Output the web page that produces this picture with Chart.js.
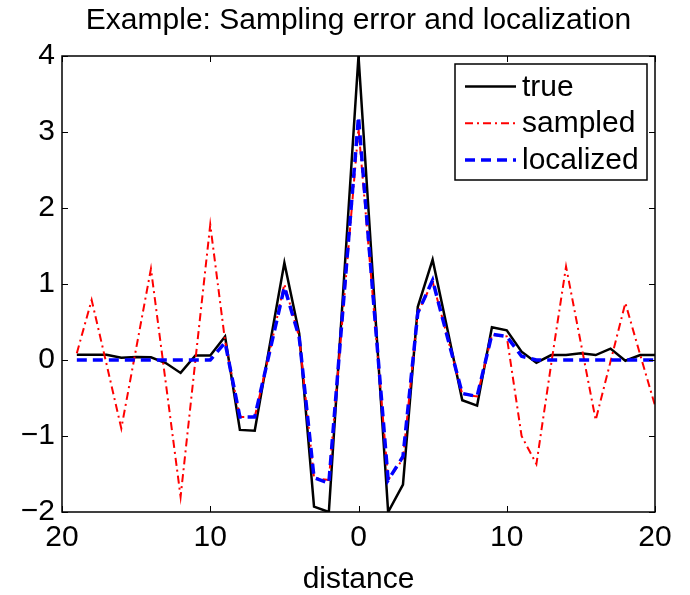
<!DOCTYPE html>
<html>
<head>
<meta charset="utf-8">
<script src="https://cdn.jsdelivr.net/npm/chart.js@4.4.0/dist/chart.umd.min.js"></script>
<style>
html, body { margin: 0; padding: 0; background: #fff; }
</style>
</head>
<body>
<canvas id="myChart" width="690" height="595"></canvas>
<script>
// distance from -19 to 20
const distance = [-19, -18, -17, -16, -15, -14, -13, -12, -11, -10,
                  -9, -8, -7, -6, -5, -4, -3, -2, -1, 0,
                  1, 2, 3, 4, 5, 6, 7, 8, 9, 10,
                  11, 12, 13, 14, 15, 16, 17, 18, 19, 20];

const trueVals = [0.07, 0.07, 0.07, 0.03, 0.04, 0.035, -0.04, -0.17, 0.06, 0.06,
                  0.31, -0.92, -0.93, 0.18, 1.28, 0.35, -1.93, -2.0, 1.0, 4.0,
                  1.0, -2.0, -1.64, 0.70, 1.32, 0.40, -0.53, -0.60, 0.43, 0.39,
                  0.11, -0.035, 0.065, 0.065, 0.09, 0.065, 0.15, -0.01, 0.065, 0.065];

const sampledVals = [0.09, 0.79, -0.05, -0.90, 0.15, 1.20, -0.30, -1.80, 0.0, 1.78,
                     0.25, -0.75, -0.75, 0.10, 1.00, 0.30, -1.55, -1.58, 0.73, 3.05,
                     0.75, -1.58, -1.30, 0.62, 1.03, 0.30, -0.45, -0.48, 0.33, 0.31,
                     -1.00, -1.37, -0.05, 1.23, 0.22, -0.79, -0.02, 0.75, 0.07, -0.60];

const localizedVals = [0, 0, 0, 0, 0, 0, 0, 0, 0, 0,
                       0.23, -0.75, -0.75, 0.10, 0.96, 0.30, -1.55, -1.62, 0.79, 3.20,
                       0.80, -1.58, -1.27, 0.62, 1.05, 0.30, -0.44, -0.48, 0.34, 0.31,
                       0.05, 0, 0, 0, 0, 0, 0, 0, 0, 0];

const seriesNames = ['true', 'sampled', 'localized'];
const titleText = 'Example: Sampling error and localization';
const xLabel = 'distance';

const FONT = "'Liberation Sans', Arial, Helvetica, sans-serif";

function toXY(vals) {
    return distance.map((d, i) => ({ x: d, y: vals[i] }));
}

// center the title over the axes, not the whole canvas
const titleOnAxes = {
    id: 'titleOnAxes',
    afterLayout(chart) {
        if (chart.titleBlock) {
            chart.titleBlock.left = chart.chartArea.left;
            chart.titleBlock.right = chart.chartArea.right;
        }
    }
};

// box round the axes with matlab style inward ticks
const frame = {
    id: 'frame',
    afterDatasetsDraw(chart) {
        const ctx = chart.ctx;
        const a = chart.chartArea;
        const xs = chart.scales.x;
        const ys = chart.scales.y;
        const len = 6;
        ctx.save();
        ctx.strokeStyle = '#000';
        ctx.lineWidth = 1;
        ctx.beginPath();
        xs.ticks.forEach(t => {
            const p = Math.round(xs.getPixelForValue(t.value)) + 0.5;
            ctx.moveTo(p, a.bottom); ctx.lineTo(p, a.bottom - len);
            ctx.moveTo(p, a.top); ctx.lineTo(p, a.top + len);
        });
        ys.ticks.forEach(t => {
            const p = Math.round(ys.getPixelForValue(t.value)) + 0.5;
            ctx.moveTo(a.left, p); ctx.lineTo(a.left + len, p);
            ctx.moveTo(a.right, p); ctx.lineTo(a.right - len, p);
        });
        ctx.stroke();
        ctx.lineWidth = 1.5;
        ctx.strokeRect(a.left, a.top, a.right - a.left, a.bottom - a.top);
        ctx.restore();
    }
};

// legend box in the top right corner of the axes
const boxLegend = {
    id: 'boxLegend',
    afterDraw(chart) {
        const ctx = chart.ctx;
        const a = chart.chartArea;
        const w = 192, h = 116;
        const left = a.right - 8 - w;
        const top = a.top + 8;
        ctx.save();
        ctx.fillStyle = '#fff';
        ctx.fillRect(left, top, w, h);
        ctx.strokeStyle = '#000';
        ctx.lineWidth = 1.5;
        ctx.strokeRect(left, top, w, h);
        ctx.font = '30px ' + FONT;
        ctx.textBaseline = 'middle';
        ctx.fillStyle = '#000';
        chart.data.datasets.forEach((ds, i) => {
            const y = top + 22.5 + i * 36.7;
            ctx.beginPath();
            ctx.strokeStyle = ds.borderColor;
            ctx.lineWidth = ds.borderWidth;
            ctx.setLineDash(ds.borderDash || []);
            ctx.moveTo(left + 10, y);
            ctx.lineTo(left + 61, y);
            ctx.stroke();
            ctx.setLineDash([]);
            ctx.fillText(ds.label, left + 67, y + 1);
        });
        ctx.restore();
    }
};

Chart.defaults.color = '#000';
Chart.defaults.font.family = FONT;

const chart = new Chart(document.getElementById('myChart'), {
    type: 'line',
    data: {
        datasets: [
            {
                label: seriesNames[0],
                data: toXY(trueVals),
                borderColor: '#000000',
                borderWidth: 2.5,
                pointRadius: 0,
                order: 2
            },
            {
                label: seriesNames[1],
                data: toXY(sampledVals),
                borderColor: '#ff0000',
                borderWidth: 2,
                borderDash: [8, 4, 2, 4],
                pointRadius: 0,
                order: 1
            },
            {
                label: seriesNames[2],
                data: toXY(localizedVals),
                borderColor: '#0000ff',
                borderWidth: 3.5,
                borderDash: [10, 6],
                pointRadius: 0,
                order: 0
            }
        ]
    },
    options: {
        responsive: false,
        animation: false,
        layout: {
            padding: { left: 0, right: 35, top: 0, bottom: 0 }
        },
        plugins: {
            legend: { display: false },
            tooltip: { enabled: false },
            title: {
                display: true,
                text: titleText,
                color: '#000',
                font: { size: 30, weight: 'normal', lineHeight: 1.2 },
                padding: { top: 3, bottom: 17 }
            }
        },
        scales: {
            x: {
                type: 'linear',
                min: -20,
                max: 20,
                grid: { display: false, drawTicks: false },
                border: { display: false },
                ticks: {
                    stepSize: 10,
                    padding: 8,
                    font: { size: 30, lineHeight: 1.2 },
                    callback: v => String(Math.abs(v))
                },
                title: {
                    display: true,
                    text: xLabel,
                    font: { size: 30, lineHeight: 1 },
                    padding: { top: 0, bottom: 0 }
                },
                afterFit: s => { s.height = 83; }
            },
            y: {
                min: -2,
                max: 4,
                grid: { display: false, drawTicks: false },
                border: { display: false },
                ticks: {
                    stepSize: 1,
                    padding: 7,
                    font: { size: 30 },
                    callback: v => v < 0 ? '\u2212' + Math.abs(v) : String(v)
                },
                afterFit: s => { s.width = 62; }
            }
        }
    },
    plugins: [titleOnAxes, frame, boxLegend]
});
</script>
</body>
</html>
